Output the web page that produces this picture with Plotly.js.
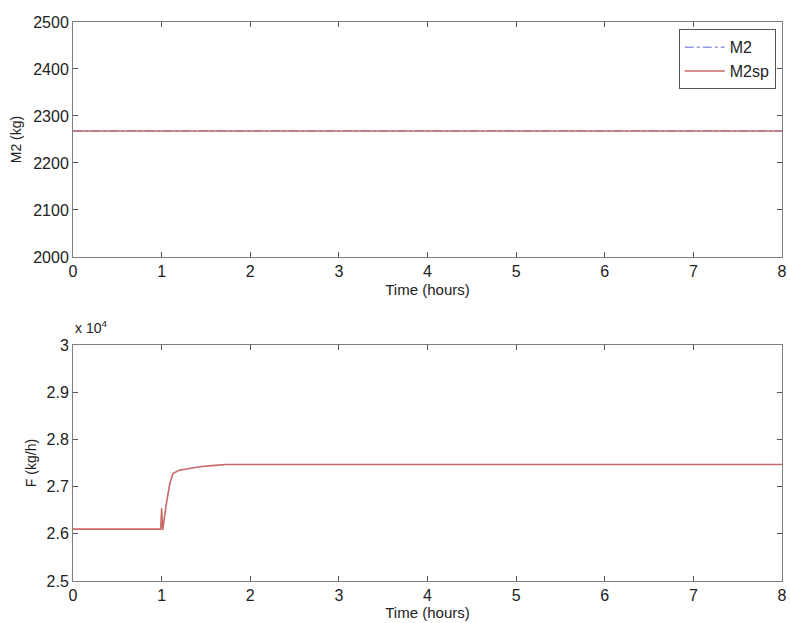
<!DOCTYPE html>
<html>
<head>
<meta charset="utf-8">
<script src="https://cdn.plot.ly/plotly-3.0.1.min.js"></script>
<style>html,body{margin:0;padding:0;background:#fff;}#chart{width:790px;height:623px;}</style>
</head>
<body>
<div id="chart"></div>
<script>
// Top panel: tank mass M2 and its setpoint (kg)
var timeM2 = [0, 1, 2, 3, 4, 5, 6, 7, 8];
var m2Values = [2268, 2268, 2268, 2268, 2268, 2268, 2268, 2268, 2268];
var m2spValues = [2268, 2268, 2268, 2268, 2268, 2268, 2268, 2268, 2268];

// Bottom panel: feed flow F (kg/h)
var timeF = [0, 0.99, 1.0, 1.005, 1.012, 1.05, 1.093, 1.13, 1.206, 1.3, 1.43, 1.6, 1.73, 1.85, 8];
var fValues = [26100, 26100, 26540, 26200, 26080, 26600, 27070, 27280, 27350, 27380, 27420, 27450, 27470, 27470, 27470];

var m2Ticks = [2000, 2100, 2200, 2300, 2400, 2500];
var fTickVals = [25000, 26000, 27000, 28000, 29000, 30000];
var fTickText = ['2.5', '2.6', '2.7', '2.8', '2.9', '3'];
var xTicks = [0, 1, 2, 3, 4, 5, 6, 7, 8];

var red = '#c96a6a';
var blue = '#5a6ad0';
var font = 'Liberation Sans, Arial, sans-serif';

var traces = [
  {x: timeM2, y: m2Values, name: 'M2', mode: 'lines', line: {color: blue, width: 1, dash: 'dashdot'}, xaxis: 'x', yaxis: 'y'},
  {x: timeM2, y: m2spValues, name: 'M2sp', mode: 'lines', line: {color: red, width: 1.6}, xaxis: 'x', yaxis: 'y'},
  {x: timeF, y: fValues, name: 'F', mode: 'lines', line: {color: red, width: 1.6}, xaxis: 'x2', yaxis: 'y2', showlegend: false}
];

function xax(anchor, standoff) {
  return {
    domain: [0.0924, 0.9899], range: [0, 8], tickvals: xTicks, anchor: anchor,
    showgrid: false, zeroline: false, showline: true, mirror: 'ticks',
    linecolor: '#7f7f7f', linewidth: 1, ticks: 'inside', ticklen: 5, tickcolor: '#555',
    tickfont: {family: font, size: 16, color: '#222'},
    title: {text: 'Time (hours)', font: {family: font, size: 15, color: '#222'}, standoff: standoff}
  };
}
function yax(anchor, domain, range, tv, tt, title, standoff) {
  var a = {
    domain: domain, range: range, tickvals: tv, anchor: anchor,
    showgrid: false, zeroline: false, showline: true, mirror: 'ticks',
    linecolor: '#7f7f7f', linewidth: 1, ticks: 'inside', ticklen: 5, tickcolor: '#555',
    tickfont: {family: font, size: 16, color: '#222'},
    title: {text: title, font: {family: font, size: 14, color: '#222'}, standoff: standoff}
  };
  if (tt) a.ticktext = tt;
  return a;
}

var layout = {
  width: 790, height: 623,
  margin: {l: 0, r: 0, t: 0, b: 0},
  paper_bgcolor: '#fff', plot_bgcolor: '#fff',
  showlegend: true,
  xaxis: xax('y', 5),
  yaxis: yax('x', [0.5875, 0.9647], [2000, 2500], m2Ticks, null, 'M2 (kg)', 8),
  xaxis2: xax('y2', 2),
  yaxis2: yax('x2', [0.0674, 0.4462], [25000, 30000], fTickVals, fTickText, 'F (kg/h)', 6),
  legend: {
    x: 0.982, y: 0.953, xanchor: 'right', yanchor: 'top',
    bgcolor: '#fff', bordercolor: '#555', borderwidth: 1,
    font: {family: font, size: 16, color: '#222'},
    itemwidth: 40, tracegroupgap: 0, tracegroupgap: 0
  },
  annotations: [
    {xref: 'paper', yref: 'paper', x: 0.0924, y: 0.4462, xanchor: 'left', yanchor: 'bottom', yshift: 7,
     text: 'x 10<sup>4</sup>', showarrow: false, font: {family: font, size: 14, color: '#222'}}
  ]
};

Plotly.newPlot('chart', traces, layout, {displayModeBar: false, staticPlot: true});
</script>
</body>
</html>
